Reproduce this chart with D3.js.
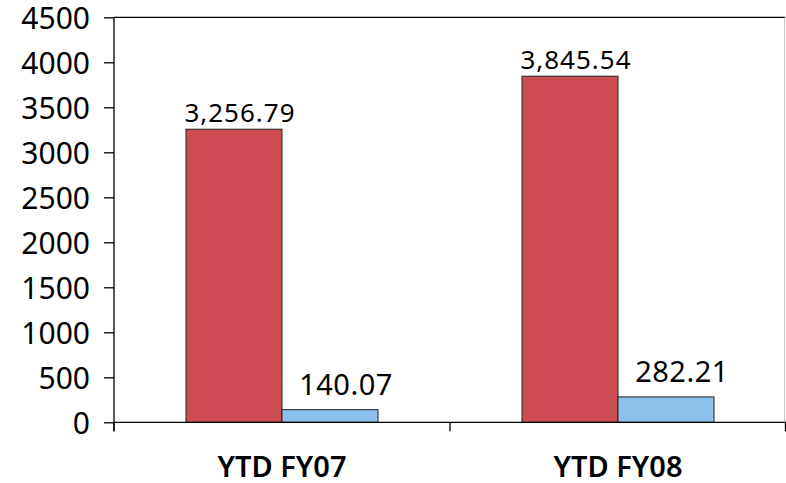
<!DOCTYPE html>
<html>
<head>
<meta charset="utf-8">
<script src="https://cdn.jsdelivr.net/npm/d3@7"></script>
<style>
  body { margin: 0; background: #fff; }
  svg { display: block; font-family: "Noto Sans", sans-serif; }
</style>
</head>
<body>
<svg id="chart"></svg>
<script>
// chart size
const width = 786;
const height = 483;

// data
const categories = ["YTD FY07", "YTD FY08"];
const series = ["a", "b"];
const valuesA = [3256.79, 3845.54];
const valuesB = [140.07, 282.21];
const labelsA = ["3,256.79", "3,845.54"];
const labelsB = ["140.07", "282.21"];
const yTicks = [0, 500, 1000, 1500, 2000, 2500, 3000, 3500, 4000, 4500];

const colors = { a: "#cd4b52", b: "#8dc0ea" };

const margin = { top: 17.3, right: 0, bottom: 60.7, left: 114 };
const plotW = width - margin.left - margin.right;
const plotH = height - margin.top - margin.bottom;

const svg = d3.select("#chart").attr("width", width).attr("height", height);
const g = svg.append("g").attr("transform", `translate(${margin.left},${margin.top})`);

// scales
const x0 = d3.scaleBand().domain(categories).range([0, plotW]);
const x1 = d3.scaleBand().domain(series)
  .range([x0.bandwidth() * 0.2143, x0.bandwidth() * 0.7857]);
const y = d3.scaleLinear().domain([0, 4500]).range([plotH, 0]);

// frame: top black, right light grey
g.append("line").attr("x1", 0).attr("x2", plotW - 0.5).attr("y1", 0).attr("y2", 0)
  .attr("stroke", "#000").attr("stroke-width", 1.3);
g.append("line").attr("x1", plotW - 1.5).attr("x2", plotW - 1.5).attr("y1", 0).attr("y2", plotH)
  .attr("stroke", "#c8c8c8").attr("stroke-width", 1);

// rows of bars
const rows = categories.map((c, i) => ({
  cat: c,
  bars: [
    { key: "a", v: valuesA[i], label: labelsA[i] },
    { key: "b", v: valuesB[i], label: labelsB[i] }
  ]
}));

const grp = g.selectAll(".grp").data(rows).enter().append("g")
  .attr("transform", d => `translate(${x0(d.cat)},0)`);

grp.selectAll("rect").data(d => d.bars).enter().append("rect")
  .attr("x", d => x1(d.key))
  .attr("y", d => y(d.v))
  .attr("width", x1.bandwidth())
  .attr("height", d => plotH - y(d.v))
  .attr("fill", d => colors[d.key])
  .attr("stroke", "#222")
  .attr("stroke-width", 1);

// value labels
grp.selectAll("text.val").data(d => d.bars).enter().append("text")
  .attr("class", "val")
  .attr("x", d => x1(d.key) + x1.bandwidth() / 2 + (d.key === "a" ? 6 : 16))
  .attr("y", d => y(d.v) - (d.key === "a" ? 7 : 15))
  .attr("text-anchor", "middle")
  .attr("font-size", d => d.key === "a" ? 26 : 29)
  .attr("letter-spacing", d => d.key === "a" ? 1 : 0.5)
  .attr("fill", "#000")
  .text(d => d.label);

// y axis
const yAxis = g.append("g").call(
  d3.axisLeft(y).tickValues(yTicks).tickSize(10).tickPadding(14).tickFormat(d3.format("d"))
);
yAxis.select(".domain").attr("d", `M0,0V${plotH + 9}`).attr("stroke-width", 1.3);
yAxis.selectAll(".tick line").attr("stroke-width", 1.3);
yAxis.selectAll(".tick text")
  .attr("font-family", "Noto Sans, sans-serif")
  .attr("font-size", 30)
  .attr("dy", "0.38em")
  .attr("fill", "#000");

// x axis
g.append("line").attr("x1", 0).attr("x2", plotW).attr("y1", plotH).attr("y2", plotH)
  .attr("stroke", "#000").attr("stroke-width", 1.3);
const xTickPos = categories.map(c => x0(c)).concat([x0.range()[1] - 0.5]);
g.selectAll(".xtick").data(xTickPos).enter().append("line")
  .attr("x1", d => d).attr("x2", d => d)
  .attr("y1", plotH).attr("y2", plotH + 9)
  .attr("stroke", "#000").attr("stroke-width", 1.3);

g.selectAll(".xlab").data(categories).enter().append("text")
  .attr("x", d => x0(d) + x0.bandwidth() / 2)
  .attr("y", plotH + 55)
  .attr("text-anchor", "middle")
  .attr("font-size", 29)
  .attr("font-weight", 600)
  .attr("fill", "#000")
  .text(d => d);
</script>
</body>
</html>
